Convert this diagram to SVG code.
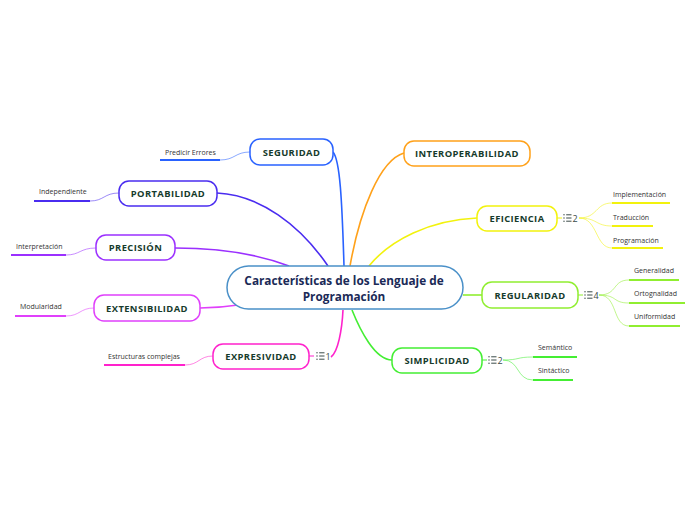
<svg xmlns="http://www.w3.org/2000/svg" width="696" height="520" viewBox="0 0 696 520">
<style>
.nd{fill:#fff;stroke-width:1.5}
.nt{font-family:"Open Sans","Noto Sans",sans-serif;font-weight:bold;font-size:9.4px;letter-spacing:0.4px;fill:#163b2c;text-anchor:middle;dominant-baseline:central}
.ct{font-family:"Open Sans","Noto Sans",sans-serif;font-weight:bold;font-size:11.8px;fill:#1b2a57;text-anchor:middle}
.lt{font-family:"Open Sans","Noto Sans",sans-serif;font-size:7px;fill:#333}
.ul{stroke-width:2;fill:none}
.lc{stroke-width:1;fill:none;opacity:0.55}
.mc{stroke-width:1.6;fill:none}
.cnt{font-family:"Open Sans","Noto Sans",sans-serif;font-size:9px;fill:#3a4a48}
</style>
<defs>
<g id="icon" fill="#3a4a48" stroke="#3a4a48" stroke-width="1">
<circle cx="0" cy="-3.2" r="0.7" stroke="none"/>
<circle cx="0" cy="0" r="0.7" stroke="none"/>
<circle cx="0" cy="3.2" r="0.7" stroke="none"/>
<line x1="2.2" y1="-3.2" x2="7.5" y2="-3.2"/>
<line x1="2.2" y1="0" x2="7.5" y2="0"/>
<line x1="2.2" y1="3.2" x2="7.5" y2="3.2"/>
</g>
</defs>
<g id="connectors">
<path class="mc" stroke="#2962ff" d="M333,152 C340,160 342,200 344,266"/>
<path class="mc" stroke="#4a2cf0" d="M217,193 C260,195 300,225 328,266"/>
<path class="mc" stroke="#9b30ff" d="M175,248 C220,248 260,255 289,266"/>
<path class="mc" stroke="#e040fb" d="M200,308 C215,308 225,307 238,305"/>
<path class="mc" stroke="#ff22cc" d="M331,357 C338,352 342,330 343,310"/>
<path class="mc" stroke="#ffa11a" d="M404,153 C380,160 360,210 350,266"/>
<path class="mc" stroke="#f2f20d" d="M477,218 C430,220 390,240 369,266"/>
<path class="mc" stroke="#90ee30" d="M463,295 L482,295"/>
<path class="mc" stroke="#44ee33" d="M352,310 C360,330 375,360 392,360"/>
<path class="lc" stroke="#2962ff" d="M250,152 C235,152 235,160 220,160"/>
<path class="lc" stroke="#4a2cf0" d="M119,193 C104,193 104,201 90,201"/>
<path class="lc" stroke="#9b30ff" d="M96,248 C80,248 80,255 66,255"/>
<path class="lc" stroke="#e040fb" d="M94,308 C80,308 80,316 66,316"/>
<path class="lc" stroke="#ff22cc" d="M213,356 C199,356 199,365 185,365"/>
<path class="lc" stroke="#f2f20d" d="M579,218 C598,218 595,203 612,203 M579,218 C598,218 595,226 612,226 M579,218 C598,218 595,248 612,248"/>
<path class="lc" stroke="#90ee30" d="M599,295 C618,295 612,280 629,280 M599,295 C618,295 612,303 629,303 M599,295 C618,295 612,326 629,326"/>
<path class="lc" stroke="#44ee33" d="M503,360 C520,360 516,357 533,357 M503,360 C520,360 516,380 533,380"/>
<line x1="557" y1="218" x2="562" y2="218" stroke="#f2f20d" stroke-width="1"/>
<line x1="578" y1="295" x2="583" y2="295" stroke="#90ee30" stroke-width="1"/>
<line x1="482" y1="360" x2="487" y2="360" stroke="#44ee33" stroke-width="1"/>
<line x1="309" y1="356" x2="314" y2="356" stroke="#ff22cc" stroke-width="1"/>
</g>
<g id="center">
<rect class="nd" x="227" y="266" width="236" height="43" rx="21.5" stroke="#4a90c8"/>
<text class="ct" x="344" y="285">Características de los Lenguaje de</text>
<text class="ct" x="344" y="301">Programación</text>
</g>
<g id="seguridad">
<rect class="nd" x="250" y="139" width="83" height="26" rx="10" stroke="#2962ff"/>
<text class="nt" x="291.5" y="152">SEGURIDAD</text>
</g>
<g id="leaf-predicir">
<text class="lt" x="165" y="155">Predicir Errores</text>
<line class="ul" x1="160" y1="160" x2="220" y2="160" stroke="#2962ff"/>
</g>
<g id="portabilidad">
<rect class="nd" x="119" y="181" width="98" height="25" rx="10" stroke="#4a2cf0"/>
<text class="nt" x="168" y="193.5">PORTABILIDAD</text>
</g>
<g id="leaf-independiente">
<text class="lt" x="39" y="194">Independiente</text>
<line class="ul" x1="34" y1="201" x2="90" y2="201" stroke="#4a2cf0"/>
</g>
<g id="precision">
<rect class="nd" x="96" y="235" width="79" height="25" rx="10" stroke="#9b30ff"/>
<text class="nt" x="135.5" y="247.5">PRECISIÓN</text>
</g>
<g id="leaf-interpretacion">
<text class="lt" x="16" y="249">Interpretación</text>
<line class="ul" x1="11" y1="255" x2="66" y2="255" stroke="#9b30ff"/>
</g>
<g id="extensibilidad">
<rect class="nd" x="94" y="295" width="106" height="26" rx="10" stroke="#e040fb"/>
<text class="nt" x="147" y="308">EXTENSIBILIDAD</text>
</g>
<g id="leaf-modularidad">
<text class="lt" x="20" y="309">Modularidad</text>
<line class="ul" x1="15" y1="316" x2="66" y2="316" stroke="#e040fb"/>
</g>
<g id="expresividad">
<rect class="nd" x="213" y="344" width="96" height="25" rx="10" stroke="#ff22cc"/>
<text class="nt" x="261" y="356.5">EXPRESIVIDAD</text>
<use href="#icon" x="317" y="356"/>
<text class="cnt" x="325.5" y="360">1</text>
</g>
<g id="leaf-estructuras">
<text class="lt" x="108" y="359">Estructuras complejas</text>
<line class="ul" x1="104" y1="365" x2="185" y2="365" stroke="#ff22cc"/>
</g>
<g id="interoperabilidad">
<rect class="nd" x="404" y="141" width="126" height="25" rx="10" stroke="#ffa11a"/>
<text class="nt" x="467" y="153.5">INTEROPERABILIDAD</text>
</g>
<g id="eficiencia">
<rect class="nd" x="477" y="206" width="80" height="25" rx="10" stroke="#f2f20d"/>
<text class="nt" x="517" y="218.5">EFICIENCIA</text>
<use href="#icon" x="564" y="218"/>
<text class="cnt" x="572.5" y="221.5">2</text>
</g>
<g id="leaf-implementacion">
<text class="lt" x="613" y="197">Implementación</text>
<line class="ul" x1="612" y1="203" x2="670" y2="203" stroke="#f2f20d"/>
</g>
<g id="leaf-traduccion">
<text class="lt" x="613" y="220">Traducción</text>
<line class="ul" x1="612" y1="226" x2="653" y2="226" stroke="#f2f20d"/>
</g>
<g id="leaf-programacion">
<text class="lt" x="613" y="243">Programación</text>
<line class="ul" x1="612" y1="248" x2="663" y2="248" stroke="#f2f20d"/>
</g>
<g id="regularidad">
<rect class="nd" x="482" y="282" width="96" height="26" rx="10" stroke="#90ee30"/>
<text class="nt" x="530" y="295">REGULARIDAD</text>
<use href="#icon" x="585" y="295"/>
<text class="cnt" x="593.5" y="298.5">4</text>
</g>
<g id="leaf-generalidad">
<text class="lt" x="634" y="273">Generalidad</text>
<line class="ul" x1="629" y1="280" x2="679" y2="280" stroke="#90ee30"/>
</g>
<g id="leaf-ortognalidad">
<text class="lt" x="634" y="296">Ortognalidad</text>
<line class="ul" x1="629" y1="303" x2="685" y2="303" stroke="#90ee30"/>
</g>
<g id="leaf-uniformidad">
<text class="lt" x="634" y="319">Uniformidad</text>
<line class="ul" x1="629" y1="326" x2="680" y2="326" stroke="#90ee30"/>
</g>
<g id="simplicidad">
<rect class="nd" x="392" y="348" width="90" height="25" rx="10" stroke="#44ee33"/>
<text class="nt" x="437" y="360.5">SIMPLICIDAD</text>
<use href="#icon" x="489" y="360"/>
<text class="cnt" x="497.5" y="363.5">2</text>
</g>
<g id="leaf-semantico">
<text class="lt" x="538" y="350">Semántico</text>
<line class="ul" x1="533" y1="357" x2="577" y2="357" stroke="#44ee33"/>
</g>
<g id="leaf-sintactico">
<text class="lt" x="538" y="373">Sintáctico</text>
<line class="ul" x1="533" y1="380" x2="573" y2="380" stroke="#44ee33"/>
</g>
</svg>
